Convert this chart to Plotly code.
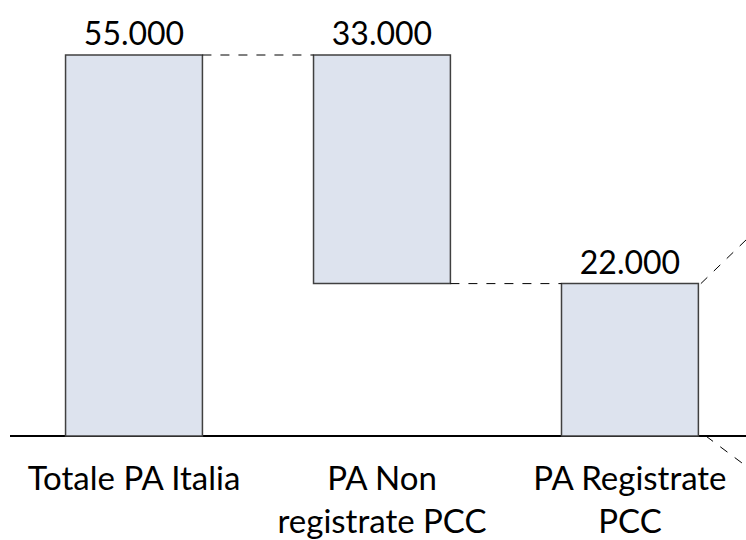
import plotly.graph_objects as go

categories = ["Totale PA Italia", "PA Non<br>registrate PCC", "PA Registrate<br>PCC"]
values = [55000, 33000, 22000]
bases = [0, 22000, 0]
value_labels = [f"{v:,}".replace(",", ".") for v in values]

x = list(range(len(categories)))
bar_w = 0.552
hw = bar_w / 2
x_max = 2.468
y_min, y_max = -4331, 62940

fig = go.Figure()
fig.add_trace(go.Bar(
    x=x, y=values, base=bases, width=bar_w,
    marker=dict(color="#DDE3EE", line=dict(color="#404040", width=1.5)),
    text=value_labels, textposition="outside", constraintext="none", cliponaxis=False,
    textfont=dict(family="Lato", size=32, color="#000000"),
    hoverinfo="skip",
))

shapes = []
# connectors
shapes.append(dict(type="line", xref="x", yref="y", x0=0 + hw, x1=1 - hw,
                   y0=bases[0] + values[0], y1=bases[0] + values[0],
                   line=dict(color="#000000", width=1, dash="dash")))
shapes.append(dict(type="line", xref="x", yref="y", x0=1 + hw, x1=2 - hw,
                   y0=bases[1], y1=bases[1],
                   line=dict(color="#000000", width=1, dash="dash")))
# zoom-out diagonals
shapes.append(dict(type="line", xref="x", yref="y", x0=2 + hw + 0.01, x1=x_max,
                   y0=bases[2] + values[2], y1=28300,
                   line=dict(color="#000000", width=1, dash="dash")))
shapes.append(dict(type="line", xref="x", yref="y", x0=2 + hw + 0.03, x1=x_max,
                   y0=0, y1=-4330,
                   line=dict(color="#000000", width=1, dash="dash")))

fig.update_layout(
    width=746, height=540,
    margin=dict(l=10, r=0, t=0, b=74, autoexpand=False),
    paper_bgcolor="white", plot_bgcolor="white",
    showlegend=False,
    shapes=shapes,
    xaxis=dict(range=[-0.5, x_max], tickvals=x, ticktext=categories,
               showgrid=False, zeroline=False, showline=False, ticks="",
               automargin=False, ticklabelstandoff=-10,
               tickfont=dict(family="Lato", size=33, color="#000000")),
    yaxis=dict(range=[y_min, y_max], showgrid=False, showticklabels=False,
               automargin=False,
               zeroline=True, zerolinecolor="#000000", zerolinewidth=1.5, showline=False),
)

fig.write_html("out.html", config={"displayModeBar": False},
               post_script="document.body.style.margin='0';")
